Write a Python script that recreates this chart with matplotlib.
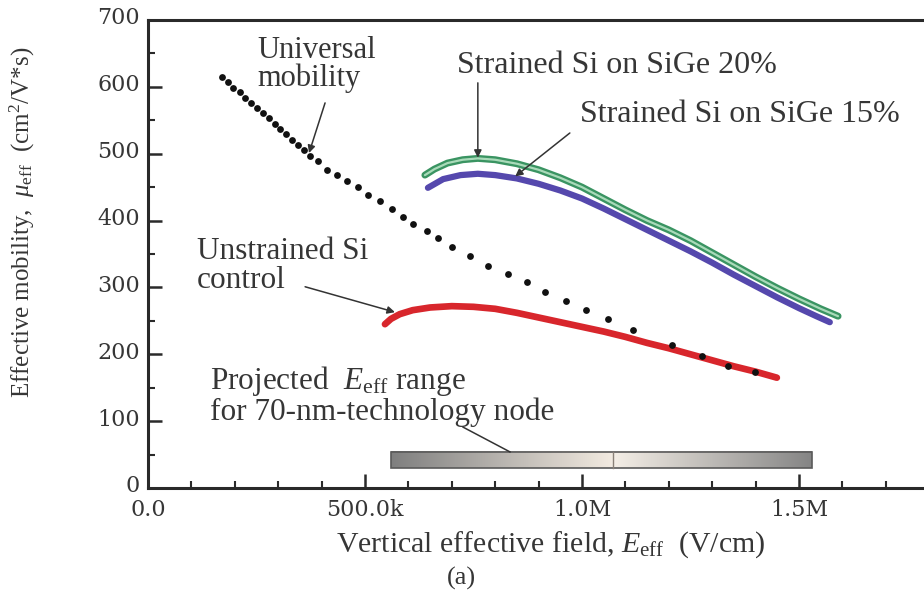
import numpy as np
import matplotlib.pyplot as plt
from matplotlib.ticker import MultipleLocator
from matplotlib.colors import LinearSegmentedColormap
from matplotlib.patches import Rectangle
from matplotlib.transforms import ScaledTranslation

plt.rcParams['font.family'] = ['Liberation Serif', 'DejaVu Serif']
plt.rcParams['mathtext.fontset'] = 'custom'
plt.rcParams['mathtext.rm'] = 'Liberation Serif'
plt.rcParams['mathtext.it'] = 'Liberation Serif:italic'

# field in MV/cm, mobility in cm^2/V*s
univ_E = [0.170, 0.184, 0.197, 0.211, 0.224, 0.238, 0.251, 0.265, 0.278, 0.292,
          0.305, 0.319, 0.332, 0.346, 0.359, 0.373, 0.392, 0.412, 0.435, 0.459,
          0.484, 0.507, 0.535, 0.562, 0.588, 0.611, 0.643, 0.668, 0.700, 0.742,
          0.783, 0.829, 0.873, 0.915, 0.963, 1.009, 1.060, 1.118, 1.207, 1.276,
          1.336, 1.399]
univ_mu = [615, 607, 599, 592, 584, 576, 569, 561, 553, 545,
           537, 529, 521, 513, 505, 497, 489, 476, 468, 459,
           450, 438, 429, 418, 405, 395, 385, 374, 361, 347,
           332, 320, 308, 293, 280, 266, 253, 236, 214, 197,
           182, 174]

sige20_E = [0.638, 0.66, 0.69, 0.725, 0.76, 0.80, 0.85, 0.90, 0.95, 1.00,
            1.05, 1.10, 1.15, 1.20, 1.25, 1.30, 1.35, 1.40, 1.45, 1.50,
            1.55, 1.59]
sige20_mu = [468, 477, 486, 491, 493, 491, 485, 476, 464, 450,
             433, 416, 400, 386, 370, 352, 334, 316, 299, 283,
             268, 257]

sige15_E = [0.645, 0.68, 0.72, 0.76, 0.80, 0.85, 0.90, 0.95, 1.00, 1.05,
            1.10, 1.15, 1.20, 1.25, 1.30, 1.35, 1.40, 1.45, 1.50, 1.54,
            1.571]
sige15_mu = [449, 462, 468, 470, 468, 463, 455, 445, 433, 418,
             402, 386, 370, 354, 337, 319, 302, 285, 269, 257,
             248]

unstr_E = [0.546, 0.56, 0.58, 0.61, 0.65, 0.70, 0.75, 0.80, 0.85, 0.90,
           0.95, 1.00, 1.05, 1.10, 1.15, 1.20, 1.25, 1.30, 1.35, 1.40,
           1.449]
unstr_mu = [245, 253, 260, 266, 270, 272, 271, 268, 262, 255,
            248, 241, 234, 226, 217, 209, 200, 191, 182, 174,
            165]

proj_range = (0.560, 1.530)   # projected E_eff range for the 70-nm node
proj_mid = 1.071

xticks = [0.0, 0.5, 1.0, 1.5]
xticklabels = ['0.0', '500.0k', '1.0M', '1.5M']
yticks = [0, 100, 200, 300, 400, 500, 600, 700]

txt = '#363636'
axc = '#2a2a2a'

fig = plt.figure(figsize=(9.24, 5.96), dpi=100)
ax = fig.add_axes([148 / 924, 108 / 596, 776 / 924, 468 / 596])
ax.set_xlim(0, 776 / 434)
ax.set_ylim(0, 700)

# curves
ax.scatter(univ_E, univ_mu, s=24, color='#111111', zorder=4, linewidths=0)
ax.plot(sige15_E, sige15_mu, color='#5548ad', lw=4.5, solid_capstyle='round', zorder=3)
ax.plot(sige20_E, sige20_mu, color='#3a9462', lw=5.0, solid_capstyle='round', zorder=3)
ax.plot(sige20_E, sige20_mu, color='#a9dab9', lw=1.6, solid_capstyle='round', zorder=3)
ax.plot(unstr_E, unstr_mu, color='#d8262c', lw=4.8, solid_capstyle='round', zorder=3)

# projected range bar with gradient
cmap = LinearSegmentedColormap.from_list(
    'bar', [(0.0, '#7f7f7f'), (0.52, '#f1e9df'), (0.53, '#f4eee6'), (1.0, '#858585')])
grad = np.linspace(0, 1, 256).reshape(1, -1)
ax.imshow(grad, cmap=cmap, aspect='auto', zorder=2,
          extent=(proj_range[0], proj_range[1], 30, 54))
ax.add_patch(Rectangle((proj_range[0], 30), proj_range[1] - proj_range[0], 24,
                       fill=False, edgecolor='#5a5a5a', lw=1.2, zorder=2))
ax.plot([proj_mid, proj_mid], [30, 54], color='#8a8178', lw=1.0, zorder=2)

# axes styling
for side in ['left', 'bottom', 'top']:
    ax.spines[side].set_linewidth(2.2)
    ax.spines[side].set_color(axc)
ax.spines['right'].set_visible(False)

ax.set_xticks(xticks, xticklabels, fontfamily='DejaVu Serif', fontsize=16, color=txt)
ax.set_yticks(yticks, [str(v) for v in yticks], fontfamily='DejaVu Serif', fontsize=16, color=txt)
ax.xaxis.set_minor_locator(MultipleLocator(0.1))
ax.yaxis.set_minor_locator(MultipleLocator(50))
ax.tick_params(which='both', direction='in', color=axc, top=False, right=False)
ax.tick_params(which='major', length=10, width=1.8)
ax.tick_params(axis='x', which='major', pad=8)
ax.tick_params(axis='y', which='major', pad=6)
ax.tick_params(which='minor', length=5, width=1.5)
# nudge the y labels up a touch, as in the original
shift = ScaledTranslation(0, 4 / 100, fig.dpi_scale_trans)
for lbl in ax.get_yticklabels():
    lbl.set_transform(lbl.get_transform() + shift)

fig.text(22 / 924, (596 - 222) / 596,
         r'Effective mobility,  $\mu_{\rm eff}$  (cm$^2$/V*s)',
         rotation=90, ha='center', va='center', fontsize=18, color=txt)
fig.text(551 / 924, (596 - 545) / 596,
         r'Vertical effective field, $E_{\rm eff}$  (V/cm)',
         ha='center', va='center', fontsize=21.5, color=txt)
fig.text(461 / 924, (596 - 578) / 596, '(a)', ha='center', va='center',
         fontsize=19, color=txt)

# annotations
arrow = dict(arrowstyle='-|>', color='#333333', lw=1.1, mutation_scale=11,
             shrinkA=0, shrinkB=0)
ax.annotate('Universal\nmobility', xy=(0.371, 501), xytext=(0.251, 676),
            ha='left', va='top', fontsize=22, color=txt, linespacing=0.95,
            zorder=5)
ax.annotate('', xy=(0.371, 501), xytext=(0.408, 576), arrowprops=arrow, zorder=5)

ax.annotate('Strained Si on SiGe 20%', xy=(0.760, 494), xytext=(0.712, 621),
            ha='left', va='baseline', fontsize=23, color=txt, zorder=5)
ax.annotate('', xy=(0.760, 494), xytext=(0.760, 606), arrowprops=arrow, zorder=5)

ax.annotate('Strained Si on SiGe 15%', xy=(0.846, 466), xytext=(0.995, 548),
            ha='left', va='baseline', fontsize=23, color=txt, zorder=5)
ax.annotate('', xy=(0.846, 466), xytext=(0.972, 531), arrowprops=arrow, zorder=5)

ax.annotate('Unstrained Si\ncontrol', xy=(0.569, 263), xytext=(0.113, 376),
            ha='left', va='top', fontsize=22.5, color=txt, linespacing=1.0,
            zorder=5)
ax.annotate('', xy=(0.569, 263), xytext=(0.362, 301), arrowprops=arrow, zorder=5)

ax.text(0.143, 185, 'Projected  $E_{\\rm eff}$ range\nfor 70-nm-technology node',
        ha='left', va='top', fontsize=22.5, color=txt, linespacing=0.95, zorder=5)
ax.plot([0.726, 0.834], [91, 54], color='#333333', lw=1.1, zorder=5)

fig.savefig('out.png', dpi=100)
